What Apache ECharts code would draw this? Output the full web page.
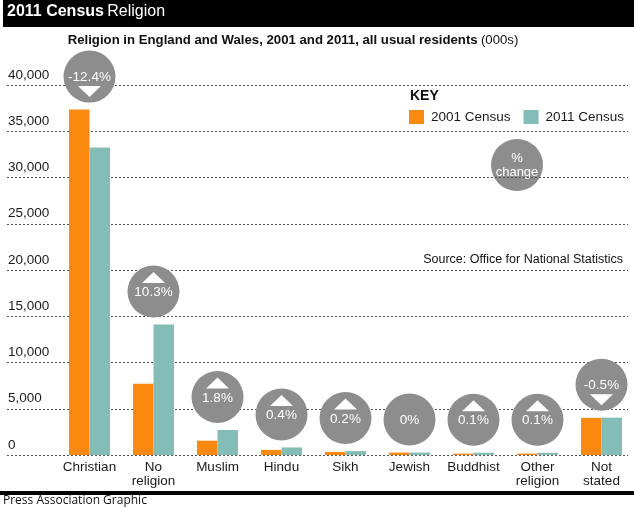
<!DOCTYPE html>
<html>
<head>
<meta charset="utf-8">
<script src="https://cdn.jsdelivr.net/npm/echarts@6/dist/echarts.min.js"></script>
<style>
html,body{margin:0;padding:0;background:#fff;}
#main{width:634px;height:508px;}
</style>
</head>
<body>
<div id="main"></div>
<script>
// ---- data ----
var categories = ['Christian', 'No\nreligion', 'Muslim', 'Hindu', 'Sikh', 'Jewish', 'Buddhist', 'Other\nreligion', 'Not\nstated'];
var census2001 = [37338, 7709, 1547, 552, 329, 260, 144, 151, 4011];
var census2011 = [33243, 14097, 2706, 817, 423, 263, 248, 240, 4038];
var pctChange = [-12.4, 10.3, 1.8, 0.4, 0.2, 0, 0.1, 0.1, -0.5];
var yTicks = [0, 5000, 10000, 15000, 20000, 25000, 30000, 35000, 40000];

var ORANGE = '#f98a0f';
var TEAL = '#84bcb8';
var GREY = '#8d8d8d';
var FONT = '"Liberation Sans", Arial, Helvetica, sans-serif';

var tops = census2001.map(function (v, i) { return Math.max(v, census2011[i]); });

var circleData = tops.map(function (v, i) {
  return { value: v, pct: pctChange[i] };
});
var triData = tops.map(function (v, i) {
  var p = pctChange[i];
  if (p === 0) return { value: v, symbolSize: 0 };
  return {
    value: v,
    symbolRotate: p < 0 ? 180 : 0,
    symbolOffset: [0, p < 0 ? -33 + 15 : -33 - 14]
  };
});

var chart = echarts.init(document.getElementById('main'), null, { renderer: 'canvas' });

var option = {
  animation: false,
  backgroundColor: '#fff',
  textStyle: { fontFamily: FONT },
  grid: [
    { left: 7, right: 6, top: 85, bottom: 53 },
    { left: 57.5, right: 0.5, top: 85, bottom: 53 }
  ],
  xAxis: [
    { gridIndex: 0, type: 'value', show: false, min: 0, max: 1 },
    {
      gridIndex: 1, type: 'category', data: categories,
      axisLine: { show: false }, axisTick: { show: false },
      axisLabel: {
        margin: 5, color: '#1a1a1a', fontSize: 13.5, lineHeight: 14.5,
        fontFamily: FONT, interval: 0
      }
    }
  ],
  yAxis: [
    {
      gridIndex: 0, type: 'value', min: yTicks[0], max: yTicks[yTicks.length - 1], interval: 5000,
      axisLine: { show: false }, axisTick: { show: false },
      splitLine: { show: true, lineStyle: { color: '#555', type: [2, 2], width: 1 } },
      axisLabel: {
        inside: true, margin: 1, color: '#1a1a1a', fontSize: 13.5, fontFamily: FONT,
        verticalAlign: 'bottom', padding: [0, 0, 3, 0],
        formatter: function (v) { return v === 0 ? '0' : v.toLocaleString('en-US'); }
      }
    },
    {
      gridIndex: 1, type: 'value', min: 0, max: 40000, interval: 5000, show: false,
      splitLine: { show: false }
    }
  ],
  legend: {
    left: 409, top: 110, itemWidth: 15, itemHeight: 14, itemGap: 13, padding: 0,
    orient: 'horizontal', width: 225,
    icon: 'rect',
    data: ['2001 Census', '2011 Census'],
    textStyle: { fontSize: 13.5, color: '#1a1a1a', fontFamily: FONT, padding: [0, 0, 0, 2] }
  },
  series: [
    {
      name: '2001 Census', type: 'bar', xAxisIndex: 1, yAxisIndex: 1,
      data: census2001, barWidth: 20.5, barGap: '0%',
      itemStyle: { color: ORANGE }
    },
    {
      name: '2011 Census', type: 'bar', xAxisIndex: 1, yAxisIndex: 1,
      data: census2011, barWidth: 20.5, barGap: '0%',
      itemStyle: { color: TEAL }
    },
    {
      name: 'pct', type: 'scatter', xAxisIndex: 1, yAxisIndex: 1,
      data: circleData, symbol: 'circle', symbolSize: 52, symbolOffset: [0, -33],
      itemStyle: { color: GREY, opacity: 1 },
      label: {
        show: true, position: 'inside', offset: [0, 1], color: '#fff', fontSize: 13.5,
        fontFamily: FONT,
        formatter: function (p) { return p.data.pct + '%'; }
      },
      z: 5
    },
    {
      name: 'tri', type: 'scatter', xAxisIndex: 1, yAxisIndex: 1,
      data: triData, symbol: 'triangle', symbolSize: [23, 11],
      itemStyle: { color: '#fff', opacity: 1 },
      z: 6
    }
  ],
  graphic: [
    { type: 'rect', left: 3, top: 0, shape: { width: 631, height: 27 }, style: { fill: '#000' } },
    {
      type: 'text', left: 7, top: 4,
      style: {
        text: '{b|2011 Census} {r|Religion}',
        rich: {
          b: { fontSize: 16, fontWeight: 'bold', fill: '#fff', fontFamily: FONT },
          r: { fontSize: 16, fill: '#fff', fontFamily: FONT }
        }
      }
    },
    {
      type: 'text', x: 293, y: 40,
      style: {
        text: '{b|Religion in England and Wales, 2001 and 2011, all usual residents} {r|(000s)}',
        align: 'center', verticalAlign: 'middle',
        rich: {
          b: { fontSize: 13.2, fontWeight: 'bold', fill: '#111', fontFamily: FONT },
          r: { fontSize: 13.2, fill: '#111', fontFamily: FONT }
        }
      }
    },
    {
      type: 'text', left: 410, top: 89,
      style: { text: 'KEY', fontSize: 14, fontWeight: 'bold', fill: '#111', fontFamily: FONT }
    },
    { type: 'circle', shape: { cx: 517, cy: 165, r: 26 }, style: { fill: GREY } },
    {
      type: 'text', x: 517, y: 165,
      style: {
        text: '%\nchange', align: 'center', verticalAlign: 'middle',
        fontSize: 13, lineHeight: 14, fill: '#fff', fontFamily: FONT
      }
    },
    {
      type: 'text', x: 623, y: 260,
      style: {
        text: 'Source: Office for National Statistics', align: 'right', verticalAlign: 'middle',
        fontSize: 12.5, fill: '#111', fontFamily: FONT
      }
    },
    { type: 'rect', left: 0, top: 491, shape: { width: 634, height: 4 }, style: { fill: '#000' } },
    {
      type: 'text', left: 3, top: 495,
      style: { text: 'Press Association Graphic', fontSize: 12, fill: '#111', fontFamily: '"Open Sans", "Noto Sans", sans-serif' }
    }
  ]
};

chart.setOption(option);
</script>
</body>
</html>
